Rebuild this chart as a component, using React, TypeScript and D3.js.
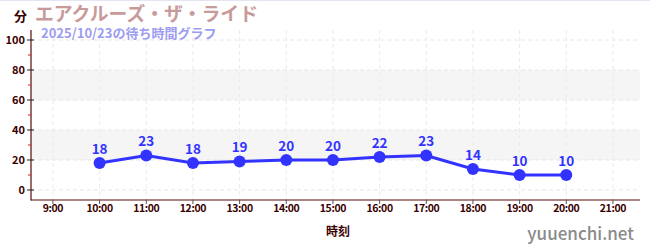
import React from "react";
import * as d3 from "d3";

const hours = [10, 11, 12, 13, 14, 15, 16, 17, 18, 19, 20];
const waits = [18, 23, 18, 19, 20, 20, 22, 23, 14, 10, 10];
const xTicks = [9, 10, 11, 12, 13, 14, 15, 16, 17, 18, 19, 20, 21];
const yTicks = [0, 20, 40, 60, 80, 100];
const yMinor = [10, 30, 50, 70, 90];
const bands = [[20, 40], [60, 80]];
const title = "エアクルーズ・ザ・ライド";
const subtitle = "2025/10/23の待ち時間グラフ";

export default function App() {
  const W = 650, H = 250;
  const x = d3.scaleLinear().domain([8.53, 21.58]).range([31, 640]);
  const y = d3.scaleLinear().domain([-6.67, 106.67]).range([200, 30]);
  const line = d3.line<number>().x((_, i) => x(hours[i])).y((d) => y(d));
  const font = "'Noto Sans CJK JP', 'Noto Sans', sans-serif";
  const axisCol = "#5a0a0a";
  return (
    <svg width={W} height={H} style={{ position: "absolute", left: 0, top: 0 }} fontFamily={font}>
      <rect x={0} y={0} width={W} height={H} fill="#fff" />
      <line x1={0} x2={W} y1={0.5} y2={0.5} stroke="#e4e4f4" />
      {bands.map(([a, b], i) => (
        <rect key={i} x={31} width={640 - 31} y={y(b)} height={y(a) - y(b)} fill="#f5f5f5" />
      ))}
      {yTicks.map((t) => (
        <line key={"gy" + t} x1={31} x2={640} y1={y(t)} y2={y(t)} stroke="#e6e6e6" strokeDasharray="4,3" />
      ))}
      {xTicks.map((t) => (
        <line key={"gx" + t} x1={x(t)} x2={x(t)} y1={30} y2={200} stroke="#eaeaea" strokeDasharray="4,3" />
      ))}
      <line x1={31} x2={31} y1={30} y2={200.5} stroke={axisCol} strokeWidth={1.2} />
      <line x1={31} x2={640} y1={200} y2={200} stroke={axisCol} strokeWidth={1.2} />
      {yTicks.map((t) => (
        <g key={"yt" + t}>
          <line x1={27} x2={34} y1={y(t)} y2={y(t)} stroke="#222" />
          <text x={25} y={y(t)} dy="0.35em" textAnchor="end" fontSize={11} fontWeight="bold" fill="#3a0000">{t}</text>
        </g>
      ))}
      {yMinor.map((t) => (
        <line key={"ym" + t} x1={28} x2={31} y1={y(t)} y2={y(t)} stroke="#d02020" />
      ))}
      {xTicks.map((t) => (
        <g key={"xt" + t}>
          <line x1={x(t)} x2={x(t)} y1={200} y2={204} stroke="#555" />
          <text x={x(t)} y={212} textAnchor="middle" fontSize={10.5} fontWeight="bold" letterSpacing={-0.4} fill="#3a0000">{t}:00</text>
        </g>
      ))}
      <path d={line(waits) || ""} fill="none" stroke="#3333ff" strokeWidth={3} />
      {waits.map((v, i) => (
        <g key={"p" + i}>
          <circle cx={x(hours[i])} cy={y(v)} r={6} fill="#3333ff" />
          <text x={x(hours[i])} y={y(v) - 9} textAnchor="middle" fontSize={13.5} fontWeight="bold" fill="#3333ff">{v}</text>
        </g>
      ))}
      <text x={14} y={21} fontSize={13} fontWeight="bold" fill="#3a0000">分</text>
      <text x={35} y={21} fontSize={18.8} fontWeight="bold" fill="#c89a9a">{title}</text>
      <text x={41} y={38} fontSize={13} fontWeight="bold" fill="#9c9cf0">{subtitle}</text>
      <text x={338} y={236} textAnchor="middle" fontSize={12} fontWeight="bold" fill="#3a0000">時刻</text>
      <text x={634} y={240} textAnchor="end" fontSize={17} fontWeight={500} fill="#8a8a8a">yuuenchi.net</text>
    </svg>
  );
}
